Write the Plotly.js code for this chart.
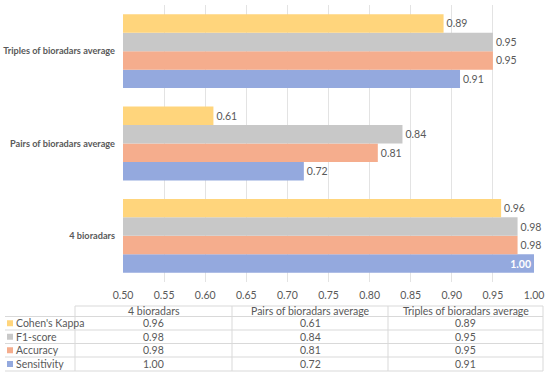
<!DOCTYPE html>
<html>
<head>
<meta charset="utf-8">
<script src="https://cdn.plot.ly/plotly-3.0.1.min.js"></script>
<style>html,body{margin:0;padding:0;background:#fff;}#chart{width:550px;height:377px;}</style>
</head>
<body>
<div id="chart"></div>
<script>
// ---- data ----
const categories = ['4 bioradars', 'Pairs of bioradars average', 'Triples of bioradars average'];
const seriesNames = ['Sensitivity', 'Accuracy', 'F1-score', "Cohen's Kappa"];
const sensitivity = [1.00, 0.72, 0.91];
const accuracy = [0.98, 0.81, 0.95];
const f1score = [0.98, 0.84, 0.95];
const kappa = [0.96, 0.61, 0.89];
const tickVals = [0.50, 0.55, 0.60, 0.65, 0.70, 0.75, 0.80, 0.85, 0.90, 0.95, 1.00];

// ---- style ----
const colors = ['#94A9DE', '#F5AD8D', '#C8C8C8', '#FFD57C'];
const FONT = 'Lato, "Liberation Sans", sans-serif';
const TXT = '#595959';
const W = 550, H = 377;
const L = 123, R = 16, T = 5, B = 95;
const pw = W - L - R, ph = H - T - B;
const xR = [0.5, 1.0];

const seriesValues = [sensitivity, accuracy, f1score, kappa];

const traces = seriesValues.map((vals, i) => {
  const pos = vals.map(v => (v >= 0.995 ? 'inside' : 'outside'));
  return {
    type: 'bar', orientation: 'h', name: seriesNames[i],
    y: categories, x: vals,
    marker: {color: colors[i]},
    texttemplate: '%{x:.2f}', textposition: pos,
    insidetextanchor: 'end',
    textfont: {family: FONT, size: 10.5, color: TXT},
    outsidetextfont: {family: FONT, size: 10.5, color: TXT},
    insidetextfont: {family: FONT, size: 10.5, color: '#ffffff', weight: 'bold'},
    constraintext: 'none', cliponaxis: false,
    hoverinfo: 'skip'
  };
});

// pixel -> paper helpers
const px = p => (p - L) / pw;
const py = p => (H - B - p) / ph;

const shapes = [];
const annotations = [];
const lineCol = '#D9D9D9';
const TF = 10.5;

// table geometry (pixels)
const colEdges = [5, 75, 232, 388, 543];
const rowEdges = [306, 316.5, 330, 343.5, 357, 371];

rowEdges.forEach((ry, k) => {
  shapes.push({type: 'line', xref: 'paper', yref: 'paper',
    x0: px(k === 0 ? colEdges[1] : colEdges[0]), x1: px(colEdges[4]), y0: py(ry), y1: py(ry),
    line: {color: lineCol, width: 1}});
});
colEdges.slice(1).forEach(cx => {
  shapes.push({type: 'line', xref: 'paper', yref: 'paper',
    x0: px(cx), x1: px(cx), y0: py(rowEdges[0]), y1: py(rowEdges[5]),
    line: {color: lineCol, width: 1}});
});

categories.forEach((c, j) => {
  annotations.push({xref: 'paper', yref: 'paper', showarrow: false,
    x: px((colEdges[j + 1] + colEdges[j + 2]) / 2), y: py((rowEdges[0] + rowEdges[1]) / 2),
    text: c, font: {family: FONT, size: TF, color: TXT}, xanchor: 'center', yanchor: 'middle'});
});

const rowOrder = [3, 2, 1, 0];
rowOrder.forEach((si, r) => {
  const cy = (rowEdges[r + 1] + rowEdges[r + 2]) / 2;
  shapes.push({type: 'rect', xref: 'paper', yref: 'paper',
    x0: px(7), x1: px(13), y0: py(cy + 3), y1: py(cy - 3),
    fillcolor: colors[si], line: {width: 0}});
  annotations.push({xref: 'paper', yref: 'paper', showarrow: false,
    x: px(14), y: py(cy), text: seriesNames[si],
    font: {family: FONT, size: TF, color: TXT}, xanchor: 'left', yanchor: 'middle'});
  categories.forEach((c, j) => {
    annotations.push({xref: 'paper', yref: 'paper', showarrow: false,
      x: px((colEdges[j + 1] + colEdges[j + 2]) / 2), y: py(cy),
      text: seriesValues[si][j].toFixed(2),
      font: {family: FONT, size: TF, color: TXT}, xanchor: 'center', yanchor: 'middle'});
  });
});

const layout = {
  width: W, height: H,
  margin: {l: L, r: R, t: T, b: B, pad: 0},
  paper_bgcolor: '#ffffff', plot_bgcolor: '#ffffff',
  barmode: 'group', bargap: 0.2, bargroupgap: 0,
  showlegend: false,
  xaxis: {range: xR, tickvals: tickVals, ticktext: tickVals.map(v => v.toFixed(2)),
    showgrid: true, gridcolor: '#E3E3E3', gridwidth: 1, zeroline: false,
    showline: false, ticks: '', ticklabelstandoff: 5,
    tickfont: {family: FONT, size: 10.5, color: TXT}, fixedrange: true},
  yaxis: {categoryorder: 'array', categoryarray: categories,
    showgrid: false, zeroline: false, showline: false, ticks: '', ticklabelstandoff: 7,
    tickfont: {family: FONT, size: 9.2, color: TXT, weight: 'bold'}, fixedrange: true},
  shapes: shapes, annotations: annotations,
  font: {family: FONT, color: TXT}
};

Plotly.newPlot('chart', traces, layout, {displayModeBar: false, staticPlot: true});
</script>
</body>
</html>
